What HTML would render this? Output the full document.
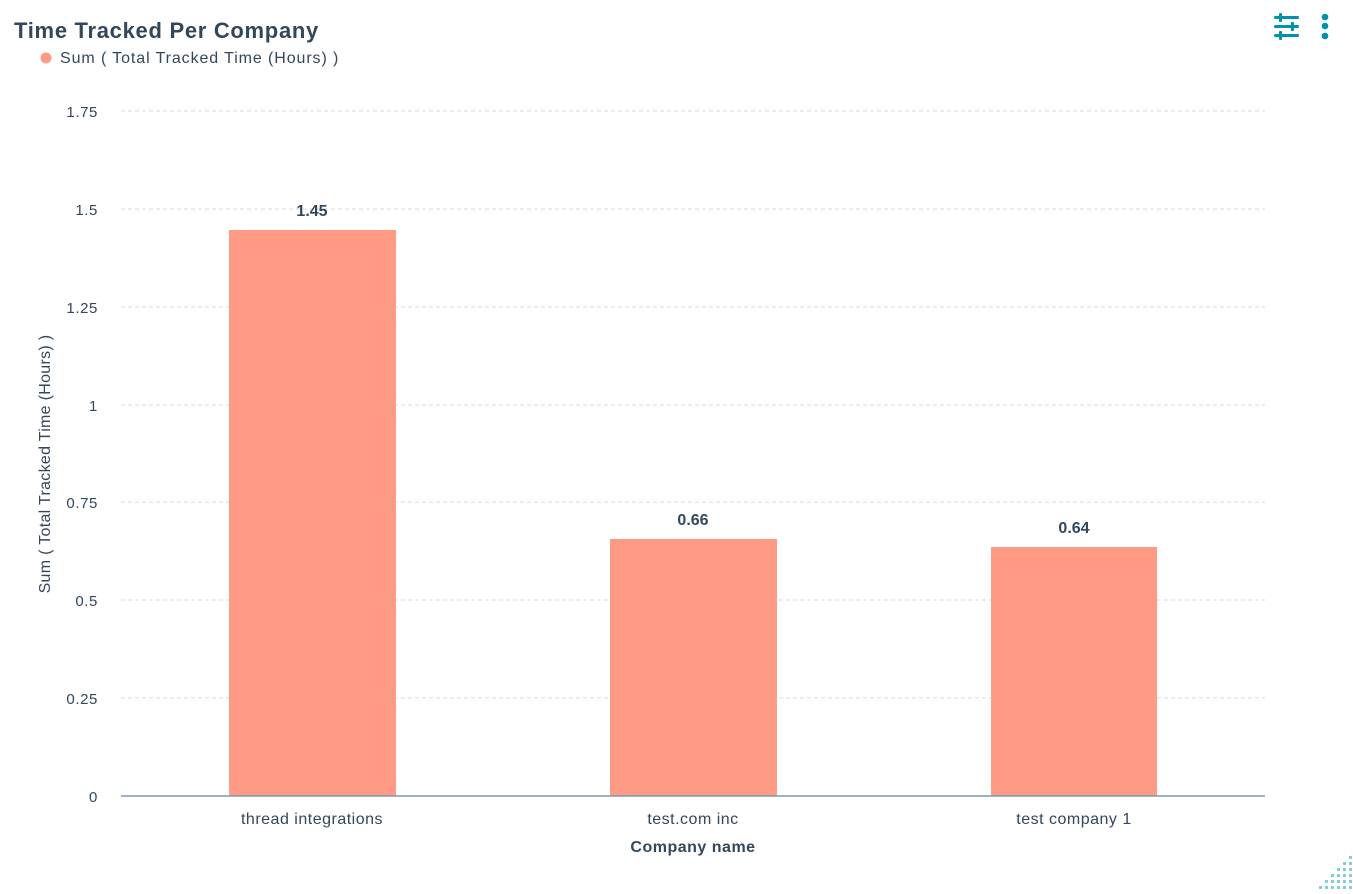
<!DOCTYPE html>
<html><head><style>
body{margin:0;background:#fff;width:1353px;height:889px;overflow:hidden;font-family:"Liberation Sans",sans-serif;}
</style></head><body>
<svg width="1353" height="889" xmlns="http://www.w3.org/2000/svg" font-family="Liberation Sans, sans-serif">
<text x="14" y="38" font-size="22" font-weight="bold" fill="#33475b" letter-spacing="0.7">Time Tracked Per Company</text>
<circle cx="46" cy="58" r="5.5" fill="#ff9a85"/>
<text x="60" y="63" font-size="16" fill="#33475b" letter-spacing="0.9">Sum ( Total Tracked Time (Hours) )</text>
<g fill="#0091ae">
<rect x="1274" y="16" width="25" height="3" rx="1.5"/><rect x="1279" y="13" width="3" height="9" rx="1"/>
<rect x="1274" y="25" width="25" height="3" rx="1.5"/><rect x="1291" y="22" width="3" height="9" rx="1"/>
<rect x="1274" y="34" width="25" height="3" rx="1.5"/><rect x="1279" y="31" width="3" height="9" rx="1"/>
<circle cx="1325" cy="17" r="3.3"/><circle cx="1325" cy="26" r="3.3"/><circle cx="1325" cy="36" r="3.3"/>
</g>
<g stroke="#d6dcea" stroke-dasharray="4,3" stroke-width="1">
<line x1="121" x2="1265" y1="111" y2="111"/><line x1="121" x2="1265" y1="209" y2="209"/>
<line x1="121" x2="1265" y1="307" y2="307"/><line x1="121" x2="1265" y1="405" y2="405"/>
<line x1="121" x2="1265" y1="502" y2="502"/><line x1="121" x2="1265" y1="600" y2="600"/>
<line x1="121" x2="1265" y1="698" y2="698"/>
</g>
<g font-size="15" fill="#33475b" text-anchor="end" letter-spacing="0.6">
<text x="98" y="117">1.75</text><text x="98" y="215">1.5</text><text x="98" y="313">1.25</text>
<text x="98" y="411">1</text><text x="98" y="508">0.75</text><text x="98" y="606">0.5</text>
<text x="98" y="704">0.25</text><text x="98" y="802">0</text>
</g>
<text transform="translate(50,464) rotate(-90)" font-size="16" fill="#33475b" text-anchor="middle" letter-spacing="0.3">Sum ( Total Tracked Time (Hours) )</text>
<g fill="#ff9a85">
<rect x="229" y="230" width="167" height="566"/>
<rect x="610" y="539" width="167" height="257"/>
<rect x="991" y="547" width="166" height="249"/>
</g>
<line x1="121" x2="1265" y1="796" y2="796" stroke="#7c98b6" stroke-width="1.5"/>
<g font-size="16" font-weight="bold" fill="#33475b" text-anchor="middle">
<text x="312" y="216">1.45</text><text x="693" y="525">0.66</text><text x="1074" y="533">0.64</text>
</g>
<g font-size="16" fill="#33475b" text-anchor="middle" letter-spacing="0.5">
<text x="312" y="824">thread integrations</text><text x="693" y="824">test.com inc</text><text x="1074" y="824">test company 1</text>
<text x="693" y="852" font-weight="bold" font-size="16">Company name</text>
</g>
<g fill="#7fd1de">
<rect x="1349" y="856" width="3" height="3"/>
<rect x="1343" y="862" width="3" height="3"/><rect x="1349" y="862" width="3" height="3"/>
<rect x="1337" y="868" width="3" height="3"/><rect x="1343" y="868" width="3" height="3"/><rect x="1349" y="868" width="3" height="3"/>
<rect x="1331" y="874" width="3" height="3"/><rect x="1337" y="874" width="3" height="3"/><rect x="1343" y="874" width="3" height="3"/><rect x="1349" y="874" width="3" height="3"/>
<rect x="1325" y="880" width="3" height="3"/><rect x="1331" y="880" width="3" height="3"/><rect x="1337" y="880" width="3" height="3"/><rect x="1343" y="880" width="3" height="3"/><rect x="1349" y="880" width="3" height="3"/>
<rect x="1319" y="886" width="3" height="3"/><rect x="1325" y="886" width="3" height="3"/><rect x="1331" y="886" width="3" height="3"/><rect x="1337" y="886" width="3" height="3"/><rect x="1343" y="886" width="3" height="3"/><rect x="1349" y="886" width="3" height="3"/>
</g>
</svg>
</body></html>
